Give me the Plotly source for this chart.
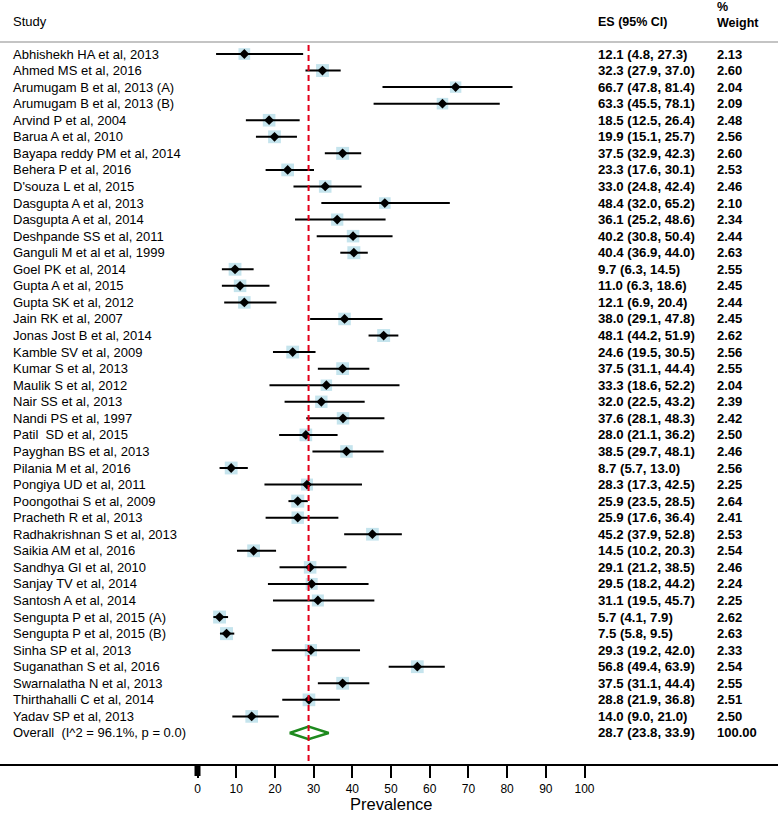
#%% Librerias
import numpy as np
import plotly.graph_objects as go

#%% Datos del forest plot
estudios = [
    "Abhishekh HA et al, 2013", "Ahmed MS et al, 2016", "Arumugam B et al, 2013 (A)",
    "Arumugam B et al, 2013 (B)", "Arvind P et al, 2004", "Barua A et al, 2010",
    "Bayapa reddy PM et al, 2014", "Behera P et al, 2016", "D'souza L et al, 2015",
    "Dasgupta A et al, 2013", "Dasgupta A et al, 2014", "Deshpande SS et al, 2011",
    "Ganguli M et al et al, 1999", "Goel PK et al, 2014", "Gupta A et al, 2015",
    "Gupta SK et al, 2012", "Jain RK et al, 2007", "Jonas Jost B et al, 2014",
    "Kamble SV et al, 2009", "Kumar S et al, 2013", "Maulik S et al, 2012",
    "Nair SS et al, 2013", "Nandi PS et al, 1997", "Patil  SD et al, 2015",
    "Payghan BS et al, 2013", "Pilania M et al, 2016", "Pongiya UD et al, 2011",
    "Poongothai S et al, 2009", "Pracheth R et al, 2013", "Radhakrishnan S et al, 2013",
    "Saikia AM et al, 2016", "Sandhya GI et al, 2010", "Sanjay TV et al, 2014",
    "Santosh A et al, 2014", "Sengupta P et al, 2015 (A)", "Sengupta P et al, 2015 (B)",
    "Sinha SP et al, 2013", "Suganathan S et al, 2016", "Swarnalatha N et al, 2013",
    "Thirthahalli C et al, 2014", "Yadav SP et al, 2013",
]
es = [12.1, 32.3, 66.7, 63.3, 18.5, 19.9, 37.5, 23.3, 33.0, 48.4, 36.1, 40.2, 40.4, 9.7,
      11.0, 12.1, 38.0, 48.1, 24.6, 37.5, 33.3, 32.0, 37.6, 28.0, 38.5, 8.7, 28.3, 25.9,
      25.9, 45.2, 14.5, 29.1, 29.5, 31.1, 5.7, 7.5, 29.3, 56.8, 37.5, 28.8, 14.0]
ci_bajo = [4.8, 27.9, 47.8, 45.5, 12.5, 15.1, 32.9, 17.6, 24.8, 32.0, 25.2, 30.8, 36.9, 6.3,
           6.3, 6.9, 29.1, 44.2, 19.5, 31.1, 18.6, 22.5, 28.1, 21.1, 29.7, 5.7, 17.3, 23.5,
           17.6, 37.9, 10.2, 21.2, 18.2, 19.5, 4.1, 5.8, 19.2, 49.4, 31.1, 21.9, 9.0]
ci_alto = [27.3, 37.0, 81.4, 78.1, 26.4, 25.7, 42.3, 30.1, 42.4, 65.2, 48.6, 50.4, 44.0, 14.5,
           18.6, 20.4, 47.8, 51.9, 30.5, 44.4, 52.2, 43.2, 48.3, 36.2, 48.1, 13.0, 42.5, 28.5,
           36.4, 52.8, 20.3, 38.5, 44.2, 45.7, 7.9, 9.5, 42.0, 63.9, 44.4, 36.8, 21.0]
peso = [2.13, 2.60, 2.04, 2.09, 2.48, 2.56, 2.60, 2.53, 2.46, 2.10, 2.34, 2.44, 2.63, 2.55,
        2.45, 2.44, 2.45, 2.62, 2.56, 2.55, 2.04, 2.39, 2.42, 2.50, 2.46, 2.56, 2.25, 2.64,
        2.41, 2.53, 2.54, 2.46, 2.24, 2.25, 2.62, 2.63, 2.33, 2.54, 2.55, 2.51, 2.50]

overall_label = "Overall  (I^2 = 96.1%, p = 0.0)"
overall_es, overall_lo, overall_hi, overall_peso = 28.7, 23.8, 33.9, 100.00

ticks_x = [0, 10, 20, 30, 40, 50, 60, 70, 80, 90, 100]

#%% Geometria (pixeles)
W, H = 778, 812
eje_px = 764                  # linea del eje x
x0_px, escala = 197.5, 3.87   # pixel del 0 y px por unidad
fila0_px, paso = 54, 16.56    # primera fila y separacion
n = len(estudios)
filas = list(range(n))
fila_overall = n

def py(p):  # pixel vertical -> paper
    return (eje_px - p) / eje_px

def px(p):  # pixel horizontal -> paper
    return p / W

FUENTE = "Liberation Sans, Arial, sans-serif"

fig = go.Figure()

# cuadrados celestes (peso)
fig.add_trace(go.Scatter(
    x=es, y=filas, mode="markers",
    marker=dict(symbol="square", color="#add8e6", size=[8 * np.sqrt(w) for w in peso],
                line=dict(width=0)),
    hoverinfo="skip", showlegend=False))

# intervalos de confianza
xs, ys = [], []
for i in filas:
    xs += [ci_bajo[i], ci_alto[i], None]
    ys += [i, i, None]
fig.add_trace(go.Scatter(x=xs, y=ys, mode="lines", line=dict(color="black", width=2),
                         hoverinfo="skip", showlegend=False))

# punto estimado
fig.add_trace(go.Scatter(
    x=es, y=filas, mode="markers",
    marker=dict(symbol="diamond", color="black", size=7.5, line=dict(width=0)),
    hoverinfo="skip", showlegend=False))

# diamante overall
h = 0.38
fig.add_trace(go.Scatter(
    x=[overall_lo, overall_es, overall_hi, overall_es, overall_lo],
    y=[fila_overall, fila_overall - h, fila_overall, fila_overall + h, fila_overall],
    mode="lines", line=dict(color="#1e8a1e", width=2.5),
    hoverinfo="skip", showlegend=False))

# linea roja del overall
fig.add_shape(type="line", xref="x", yref="y",
              x0=overall_es, x1=overall_es,
              y0=(45 - fila0_px) / paso, y1=(eje_px - fila0_px) / paso,
              line=dict(color="#e3001b", width=2, dash="6px,4px"))

# linea gris bajo el encabezado
fig.add_shape(type="line", xref="paper", yref="paper", x0=0, x1=1,
              y0=py(42), y1=py(42), line=dict(color="#c4c4c4", width=2))

# tick grueso en 0
fig.add_shape(type="line", xref="x", yref="paper", x0=0, x1=0,
              y0=py(764), y1=py(776), line=dict(color="black", width=6))

#%% Textos
anot = []
def texto(t, x, y, yref="paper", bold=False, size=13):
    anot.append(dict(text=("<b>%s</b>" % t) if bold else t, x=x, y=y, xref="paper", yref=yref,
                     xanchor="left", yanchor="middle", showarrow=False,
                     font=dict(family=FUENTE, size=size, color="black")))

texto("Study", px(11), py(22))
texto("ES (95% CI)", px(595.5), py(22), bold=True, size=12.5)
texto("%", px(714.5), py(7.5), bold=True, size=12.5)
texto("Weight", px(714.5), py(23), bold=True, size=12.5)

for i in filas:
    texto(estudios[i], px(11), i, yref="y")
    texto("%.1f (%.1f, %.1f)" % (es[i], ci_bajo[i], ci_alto[i]), px(595.5), i, yref="y",
          bold=True, size=13.2)
    texto("%.2f" % peso[i], px(714.5), i, yref="y", bold=True, size=13)

texto(overall_label, px(11), fila_overall, yref="y")
texto("%.1f (%.1f, %.1f)" % (overall_es, overall_lo, overall_hi), px(595.5), fila_overall,
      yref="y", bold=True, size=13.2)
texto("%.2f" % overall_peso, px(714.5), fila_overall, yref="y", bold=True, size=13)

anot.append(dict(text="Prevalence", x=50, y=py(804), xref="x", yref="paper",
                 xanchor="center", yanchor="middle", showarrow=False,
                 borderpad=0, borderwidth=0,
                 font=dict(family=FUENTE, size=16.5, color="black")))

#%% Layout
fig.update_layout(
    width=W, height=H,
    margin=dict(l=0, r=0, t=0, b=H - eje_px, pad=0),
    paper_bgcolor="white", plot_bgcolor="white",
    annotations=anot,
    xaxis=dict(range=[-x0_px / escala, (W - x0_px) / escala],
               tickvals=ticks_x, ticktext=[str(t) for t in ticks_x],
               showgrid=False, zeroline=False,
               showline=True, linecolor="black", linewidth=2,
               ticks="outside", ticklen=12, tickwidth=1.5, tickcolor="black",
               tickfont=dict(family=FUENTE, size=12, color="black"),
               ticklabelstandoff=1, fixedrange=True),
    yaxis=dict(range=[(eje_px - fila0_px) / paso, -fila0_px / paso],
               visible=False, showgrid=False, zeroline=False, fixedrange=True),
    showlegend=False,
)

# sin barra de herramientas y sin el margen por defecto del body
fig.write_html("out.html", config={"displayModeBar": False},
               post_script="document.body.style.margin='0';")
